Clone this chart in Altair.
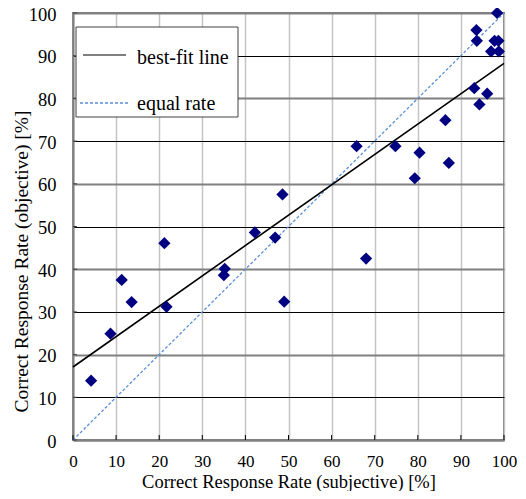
import altair as alt
import pandas as pd

# Data
subjective = [4.2, 8.7, 11.3, 13.6, 21.2, 21.7, 35.2, 35.0, 42.2, 46.9, 48.6, 49.0,
              65.8, 68.0, 74.8, 79.3, 80.4, 86.4, 87.2, 93.1, 94.3, 96.1,
              93.6, 93.7, 97.0, 97.8, 98.7, 98.8, 98.4]
objective = [13.9, 24.9, 37.5, 32.3, 46.1, 31.2, 40.1, 38.6, 48.6, 47.4, 57.5, 32.4,
             68.8, 42.5, 68.8, 61.3, 67.3, 74.9, 64.9, 82.4, 78.6, 81.1,
             96.0, 93.5, 91.0, 93.5, 93.5, 91.0, 100.0]

fit_x = [0, 100]
fit_y = [17.1, 88.2]
equal_x = [0, 100]
equal_y = [0, 100]
ticks = [0, 10, 20, 30, 40, 50, 60, 70, 80, 90, 100]
legend_labels = ["best-fit line", "equal rate"]

FONT = "'Times New Roman', 'Liberation Serif', serif"
W, H = 431, 427

pts = pd.DataFrame({"s": subjective, "o": objective})
fit = pd.DataFrame({"s": fit_x, "o": fit_y})
eq = pd.DataFrame({"s": equal_x, "o": equal_y})
tk = pd.DataFrame({"t": ticks})
one = pd.DataFrame({"a": [0]})

xscale = alt.Scale(domain=[0, 100], nice=False, zero=False)
yscale = alt.Scale(domain=[0, 100], nice=False, zero=False)

xaxis = alt.Axis(values=ticks, title="Correct Response Rate (subjective) [%]",
                 grid=True, gridColor="#c4c4c4", gridWidth=1.5,
                 ticks=False, domainColor="#808080", domainWidth=2,
                 labelFont=FONT, labelFontSize=17, labelColor="black",
                 labelBaseline="alphabetic", labelPadding=26,
                 titleFont=FONT, titleFontSize=18.5, titleFontWeight="normal",
                 titleColor="black", titleBaseline="alphabetic", titleY=47,
                 labelFlush=False)
yaxis = alt.Axis(values=ticks, title="Correct Response Rate (objective) [%]",
                 grid=True,
                 gridColor={"condition": {"test": "datum.value % 20 == 0", "value": "#808080"},
                            "value": "black"},
                 gridWidth={"condition": {"test": "datum.value % 20 == 0", "value": 2},
                            "value": 1},
                 ticks=False, domainColor="#808080", domainWidth=2,
                 labelFont=FONT, labelFontSize=18.5, labelColor="black", labelPadding=17,
                 labelOffset=1,
                 titleFont=FONT, titleFontSize=19.5, titleFontWeight="normal",
                 titleColor="black", titleX=-52, titleY=248, titleBaseline="middle",
                 titleAlign="center", titleAngle=270,
                 labelFlush=False)

base_axes = alt.Chart(eq).mark_point(opacity=0).encode(
    x=alt.X("s:Q", scale=xscale, axis=xaxis),
    y=alt.Y("o:Q", scale=yscale, axis=yaxis),
)

equal_line = alt.Chart(eq).mark_line(color="#5b8fd6", strokeDash=[3, 2], strokeWidth=1.3).encode(
    x=alt.X("s:Q", scale=xscale), y=alt.Y("o:Q", scale=yscale))

fit_line = alt.Chart(fit).mark_line(color="black", strokeWidth=1.6).encode(
    x=alt.X("s:Q", scale=xscale), y=alt.Y("o:Q", scale=yscale))

points = alt.Chart(pts).mark_point(shape="diamond", filled=True, size=150,
                                    color="#000080", opacity=1).encode(
    x=alt.X("s:Q", scale=xscale), y=alt.Y("o:Q", scale=yscale))

xticks = alt.Chart(tk).mark_rule(color="black", strokeWidth=1).encode(
    x=alt.X("t:Q", scale=xscale), y=alt.value(H), y2=alt.value(H - 5))
yticks = alt.Chart(tk).mark_rule(color="#404040", strokeWidth=1).encode(
    y=alt.Y("t:Q", scale=yscale), x=alt.value(0), x2=alt.value(4))

legend_box = alt.Chart(one).mark_rect(fill="white", stroke="#404040", strokeWidth=1).encode(
    x=alt.value(3), x2=alt.value(165), y=alt.value(14), y2=alt.value(104))
leg_fit = alt.Chart(one).mark_rule(color="black", strokeWidth=1.2).encode(
    x=alt.value(10), x2=alt.value(53), y=alt.value(42))
leg_eq = alt.Chart(one).mark_rule(color="#5b8fd6", strokeDash=[3, 2], strokeWidth=1.3).encode(
    x=alt.value(7), x2=alt.value(57), y=alt.value(90))
leg_t1 = alt.Chart(one).mark_text(text=legend_labels[0], font=FONT, fontSize=20, align="left",
                                  baseline="alphabetic", color="black").encode(
    x=alt.value(64), y=alt.value(51))
leg_t2 = alt.Chart(one).mark_text(text=legend_labels[1], font=FONT, fontSize=20, align="left",
                                  baseline="alphabetic", color="black").encode(
    x=alt.value(64), y=alt.value(97))

chart = alt.layer(
    base_axes, equal_line, fit_line, points, xticks, yticks,
    legend_box, leg_fit, leg_eq, leg_t1, leg_t2
).properties(
    width=W, height=H, autosize="none",
    padding={"left": 65, "top": 5, "right": 14, "bottom": 51},
).configure_view(stroke="#808080", strokeWidth=2)

chart.save("out.html", embed_options={"renderer": "svg", "actions": False})
